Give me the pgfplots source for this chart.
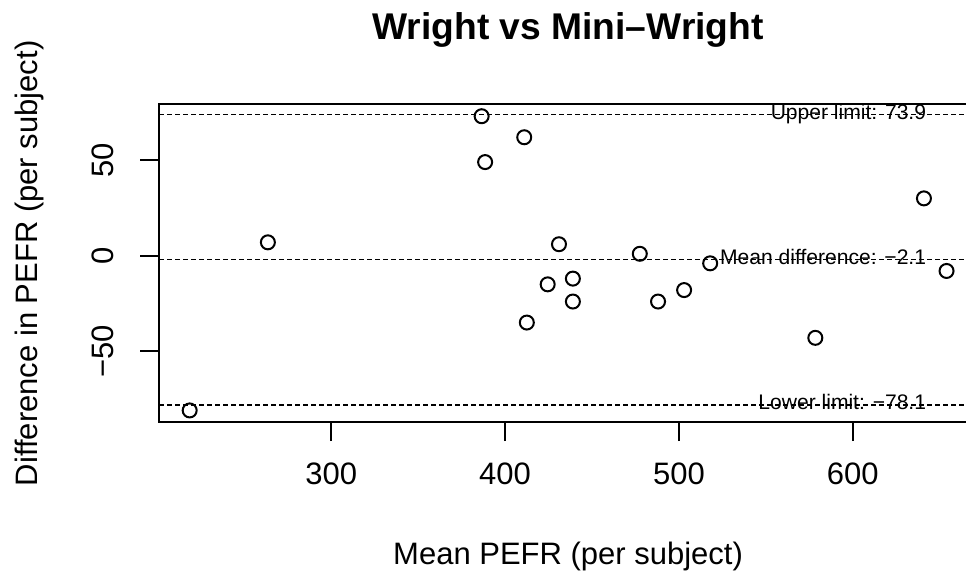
\documentclass[border=0pt]{standalone}
\usepackage{fontspec}
\setmainfont{Liberation Sans}
\usepackage{pgfplots}
\pgfplotsset{compat=1.18}

\begin{document}
\begin{tikzpicture}
  \begin{axis}[
      at={(0,0)}, anchor=south west,
      scale only axis,
      width=613.05pt, height=238.3pt,
      xmin=201.08, xmax=671.42,
      ymin=-87.16, ymax=79.16,
      font=\fontsize{23.25}{28}\selectfont,
      tick label style={font=\fontsize{23.25}{28}\selectfont},
      /pgf/number format/assume math mode=true,
      xtick={300,400,500,600},
      ytick={-50,0,50},
      yticklabels={−50,0,50},
      tick pos=left,
      tick align=outside,
      major tick length=14.25pt,
      every tick/.style={black, line width=1.5pt},
      axis line style={line width=1.5pt},
      xticklabel style={anchor=base},
      xticklabel shift=32.45pt,
      yticklabel style={rotate=90, anchor=base},
      yticklabel shift=20.35pt,
      title={\bfseries Wright vs Mini–Wright},
      every axis title/.style={font=\fontsize{27.9}{33}\selectfont,
        at={(axis description cs:0.5,1.2052)}, anchor=base},
      xlabel={Mean PEFR (per subject)},
      xlabel style={at={(axis description cs:0.5,-0.4479)}, anchor=base},
      ylabel={Difference in PEFR (per subject)},
      ylabel style={at={(axis description cs:-0.1497,0.5)}, anchor=base},
    ]
    % limits of agreement and mean difference
    \addplot[black, line width=1.1pt, dash pattern=on 3.4pt off 2.6pt]
      coordinates {(201.08,73.9) (671.42,73.9)};
    \addplot[black, line width=1.1pt, dash pattern=on 3.4pt off 2.6pt]
      coordinates {(201.08,-2.1) (671.42,-2.1)};
    \addplot[black, line width=1.1pt, dash pattern=on 3.4pt off 2.6pt]
      coordinates {(201.08,-78.1) (671.42,-78.1)};

    % mean vs difference per subject
    \addplot[only marks, mark=o, mark size=5.25pt, line width=1.5pt, black]
      coordinates {
        (503,-18) (412.5,-35) (518,-4) (431,6) (488,-24) (578.5,-43)
        (388.5,49) (411,62) (654,-8) (439,-12) (424.5,-15) (641,30)
        (263.5,7) (477.5,1) (218.5,-81) (386.5,73) (439,-24)
      };

    \node[anchor=base east, xshift=-11.8pt, yshift=-3.6pt,
      font=\fontsize{15.8}{19}\selectfont] at (axis cs:654,73.9) {Upper limit: 73.9};
    \node[anchor=base east, xshift=-11.8pt, yshift=-3.8pt,
      font=\fontsize{15.8}{19}\selectfont] at (axis cs:654,-2.1) {Mean difference: −2.1};
    \node[anchor=base east, xshift=-11.8pt, yshift=-3.8pt,
      font=\fontsize{15.8}{19}\selectfont] at (axis cs:654,-78.1) {Lower limit: −78.1};
  \end{axis}
  \pgfresetboundingbox
  \path[use as bounding box] (-119.55pt,316.65pt) rectangle (604.95pt,-113.85pt);
\end{tikzpicture}
\end{document}
